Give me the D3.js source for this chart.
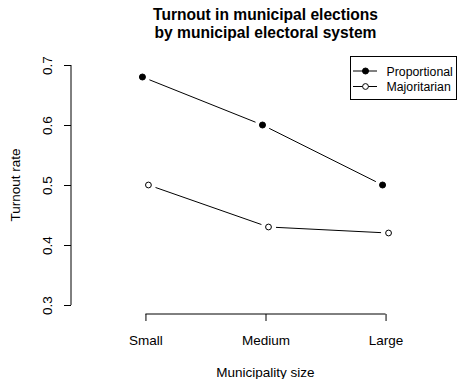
<!DOCTYPE html>
<html>
<head>
<meta charset="utf-8">
<script src="https://cdn.jsdelivr.net/npm/d3@7"></script>
<style>
  html, body { margin: 0; padding: 0; background: #fff; }
  svg { display: block; font-family: "Liberation Sans", Arial, Helvetica, sans-serif; }
</style>
</head>
<body>
<svg id="chart" width="459" height="379"></svg>
<script>
// Turnout by municipality size, split by electoral system
const categories = ["Small", "Medium", "Large"];
const proportional = [0.68, 0.60, 0.50];
const majoritarian = [0.50, 0.43, 0.42];
const yTicks = [0.3, 0.4, 0.5, 0.6, 0.7];
const seriesNames = ["Proportional", "Majoritarian"];

const plot = { left: 71, right: 460, top: 65, bottom: 305 };
const dodge = 0.025;
const baseFont = 13.5;

const svg = d3.select("#chart");

// Category positions 1..3 on a numeric axis (with side padding)
const x = d3.scaleLinear().domain([0.38, 3.62]).range([plot.left, plot.right]);
const y = d3.scaleLinear().domain([0.3, 0.7]).range([plot.bottom, plot.top]);

// Title
const cx = (plot.left + plot.right) / 2;
const title = svg.append("text")
  .attr("text-anchor", "middle")
  .attr("font-weight", "bold")
  .attr("font-size", 15.6)
  .attr("fill", "#000");
title.append("tspan").attr("x", cx).attr("y", 19.5).text("Turnout in municipal elections");
title.append("tspan").attr("x", cx).attr("y", 37.5).text("by municipal electoral system");

// Y axis (ticks outward to the left, labels rotated)
const yAxis = svg.append("g")
  .attr("transform", `translate(${plot.left},0)`)
  .call(d3.axisLeft(y).tickValues(yTicks).tickSize(7).tickFormat(d3.format(".1f")).tickSizeOuter(0));
yAxis.select(".domain").attr("stroke", "#000").attr("d", `M0,${y(0.3)}V${y(0.7)}`);
yAxis.selectAll(".tick line").attr("stroke", "#000");
yAxis.selectAll(".tick text")
  .attr("font-size", baseFont)
  .attr("font-family", "Liberation Sans, Arial, sans-serif")
  .attr("fill", "#000")
  .attr("text-anchor", "middle")
  .attr("x", 0).attr("y", 0).attr("dy", 0)
  .attr("transform", "translate(-24,0) rotate(-90)")
  .attr("dominant-baseline", "central");

// X axis at category positions
const xAxisY = 314;
const xAxis = svg.append("g")
  .attr("transform", `translate(0,${xAxisY})`)
  .call(d3.axisBottom(x).tickValues([1, 2, 3]).tickSize(7).tickSizeOuter(0)
    .tickFormat(d => categories[d - 1]));
xAxis.select(".domain").attr("stroke", "#000").attr("d", `M${x(1)},0H${x(3)}`);
xAxis.selectAll(".tick line").attr("stroke", "#000");
xAxis.selectAll(".tick text")
  .attr("font-size", baseFont)
  .attr("font-family", "Liberation Sans, Arial, sans-serif")
  .attr("fill", "#000")
  .attr("dy", 0)
  .attr("y", 30.5);

// Axis titles
svg.append("text")
  .attr("x", cx)
  .attr("y", 376.5)
  .attr("text-anchor", "middle")
  .attr("font-size", baseFont)
  .text("Municipality size");

svg.append("text")
  .attr("transform", `translate(19.5,${(plot.top + plot.bottom) / 2}) rotate(-90)`)
  .attr("text-anchor", "middle")
  .attr("font-size", baseFont)
  .text("Turnout rate");

// Series: lines with gaps around points (type "b")
const gap = 7.5;
function drawSeries(values, offset, filled) {
  const pts = values.map((v, i) => [x(i + 1 + offset), y(v)]);
  for (let i = 0; i < pts.length - 1; i++) {
    const [x0, y0] = pts[i], [x1, y1] = pts[i + 1];
    const len = Math.hypot(x1 - x0, y1 - y0);
    const ux = (x1 - x0) / len, uy = (y1 - y0) / len;
    svg.append("line")
      .attr("x1", x0 + ux * gap).attr("y1", y0 + uy * gap)
      .attr("x2", x1 - ux * gap).attr("y2", y1 - uy * gap)
      .attr("stroke", "#000").attr("stroke-width", 1);
  }
  svg.selectAll(null).data(pts).enter().append("circle")
    .attr("cx", d => d[0]).attr("cy", d => d[1])
    .attr("r", filled ? 3.0 : 2.9)
    .attr("fill", filled ? "#000" : "#fff")
    .attr("stroke", "#000").attr("stroke-width", 1);
}
drawSeries(proportional, -dodge, true);
drawSeries(majoritarian, dodge, false);

// Legend
const lg = svg.append("g");
lg.append("rect")
  .attr("x", 350.5).attr("y", 56.5).attr("width", 106).attr("height", 43)
  .attr("fill", "#fff").attr("stroke", "#000").attr("stroke-width", 1);
seriesNames.forEach((name, i) => {
  const ly = 71 + i * 15.5;
  lg.append("line").attr("x1", 353).attr("x2", 377).attr("y1", ly).attr("y2", ly)
    .attr("stroke", "#000");
  lg.append("circle").attr("cx", 365.5).attr("cy", ly)
    .attr("r", i === 0 ? 3.0 : 2.9)
    .attr("fill", i === 0 ? "#000" : "#fff").attr("stroke", "#000");
  lg.append("text").attr("x", 386.5).attr("y", ly + 4.5)
    .attr("font-size", 12.3).text(name);
});
</script>
</body>
</html>
